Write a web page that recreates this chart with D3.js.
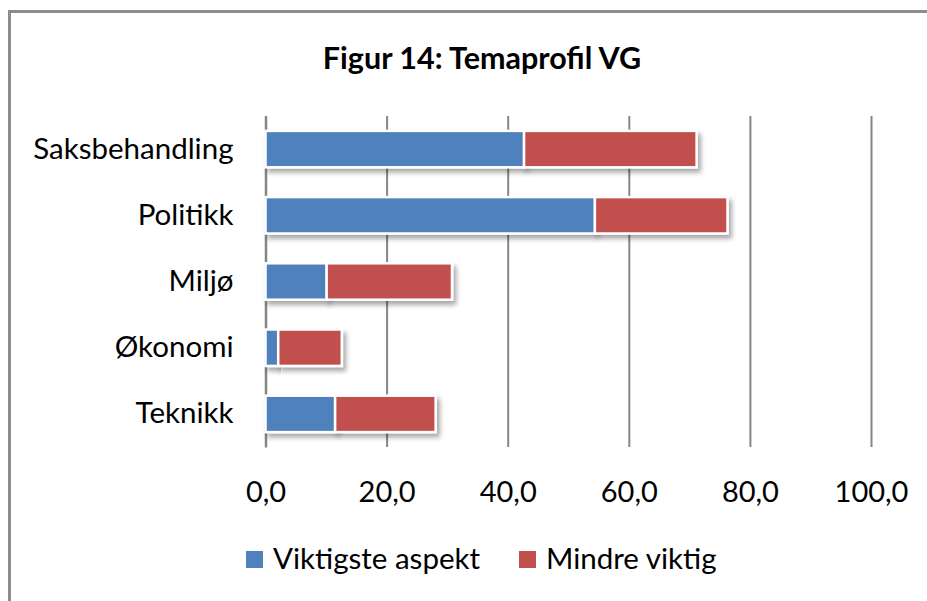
<!DOCTYPE html>
<html>
<head>
<meta charset="utf-8">
<script src="https://cdn.jsdelivr.net/npm/d3@7"></script>
<style>
  html, body { margin: 0; background: #fff; overflow: hidden; }
  svg { display: block; font-family: Lato, "Open Sans", sans-serif; }
</style>
</head>
<body>
<div id="chart"></div>
<script>
// data
var categories = ["Saksbehandling", "Politikk", "Miljø", "Økonomi", "Teknikk"];
var viktigste = [42.7, 54.4, 10.1, 2.1, 11.5];   // Viktigste aspekt
var mindre = [28.5, 21.9, 20.7, 10.5, 16.6];      // Mindre viktig
var ticks = [0, 20, 40, 60, 80, 100];
var seriesNames = ["Viktigste aspekt", "Mindre viktig"];
var colors = ["#4f81bd", "#c0504d"];

const w = 927;
const h = 601;

var rows = categories.map(function(c, i) {
  return { cat: c, a: viktigste[i], b: mindre[i] };
});
var stack = d3.stack().keys(["a", "b"])(rows);

const xScale = d3.scaleLinear().domain([0, 100]).range([265.5, 871]);
const yScale = d3.scaleBand().domain(categories).range([116, 447]).paddingInner(0.45).paddingOuter(0.225);

const svg = d3.select("#chart").append("svg")
  .attr("width", w)
  .attr("height", h);

// shadow like the excel bars
var defs = svg.append("defs");
defs.append("filter")
  .attr("id", "shadow")
  .attr("x", "-10%").attr("y", "-30%")
  .attr("width", "130%").attr("height", "190%")
  .append("feDropShadow")
  .attr("dx", 3).attr("dy", 4)
  .attr("stdDeviation", 2.5)
  .attr("flood-color", "#000")
  .attr("flood-opacity", 0.35);

// outer frame, only top and left show in the picture
svg.append("path")
  .attr("d", "M9.5," + h + "V11.5H" + (w + 5))
  .attr("fill", "none")
  .attr("stroke", "#8c8c8c")
  .attr("stroke-width", 3);

// title
svg.append("text")
  .attr("x", 482).attr("y", 69)
  .attr("text-anchor", "middle")
  .attr("font-weight", "bold")
  .attr("font-size", 30.5)
  .attr("fill", "#000")
  .text("Figur 14: Temaprofil VG");

// gridlines
const xAxis = d3.axisBottom(xScale)
  .tickValues(ticks)
  .tickSize(-(447 - 116))
  .tickPadding(34)
  .tickFormat(function(d) { return d3.format(".1f")(d).replace(".", ","); });

var gx = svg.append("g")
  .attr("transform", "translate(0,447)")
  .call(xAxis);
gx.select(".domain").remove();
gx.selectAll(".tick line")
  .attr("stroke", "#868686")
  .attr("stroke-width", 2);
gx.selectAll(".tick text")
  .attr("font-size", 29)
  .attr("fill", "#000")
  .attr("font-family", "Lato, sans-serif");

// category axis
const yAxis = d3.axisLeft(yScale).tickSize(0).tickPadding(32);
var gy = svg.append("g")
  .attr("transform", "translate(265.5,0)")
  .call(yAxis);
gy.select(".domain")
  .attr("stroke", "#868686")
  .attr("stroke-width", 2.5);
gy.selectAll(".tick text")
  .attr("font-size", 29.5)
  .attr("fill", "#000")
  .attr("font-family", "Lato, sans-serif");

// bars
svg.selectAll("g.series")
  .data(stack)
  .enter()
  .append("g")
  .attr("class", "series")
  .attr("fill", function(d, i) { return colors[i]; })
  .selectAll("rect")
  .data(function(d) { return d; })
  .enter()
  .append("rect")
  .attr("x", function(d) { return xScale(d[0]); })
  .attr("y", function(d) { return yScale(d.data.cat); })
  .attr("width", function(d) { return xScale(d[1]) - xScale(d[0]); })
  .attr("height", yScale.bandwidth())
  .attr("stroke", "#fff")
  .attr("stroke-width", 2.5)
  .attr("filter", "url(#shadow)");

// legend
var legX = [246, 519];
var leg = svg.selectAll("g.leg")
  .data(seriesNames)
  .enter()
  .append("g")
  .attr("class", "leg")
  .attr("transform", function(d, i) { return "translate(" + legX[i] + ",551)"; });
leg.append("rect")
  .attr("width", 17).attr("height", 17)
  .attr("fill", function(d, i) { return colors[i]; });
leg.append("text")
  .attr("x", 27).attr("y", 18)
  .attr("font-size", 29.5)
  .attr("fill", "#000")
  .text(function(d) { return d; });
</script>
</body>
</html>
